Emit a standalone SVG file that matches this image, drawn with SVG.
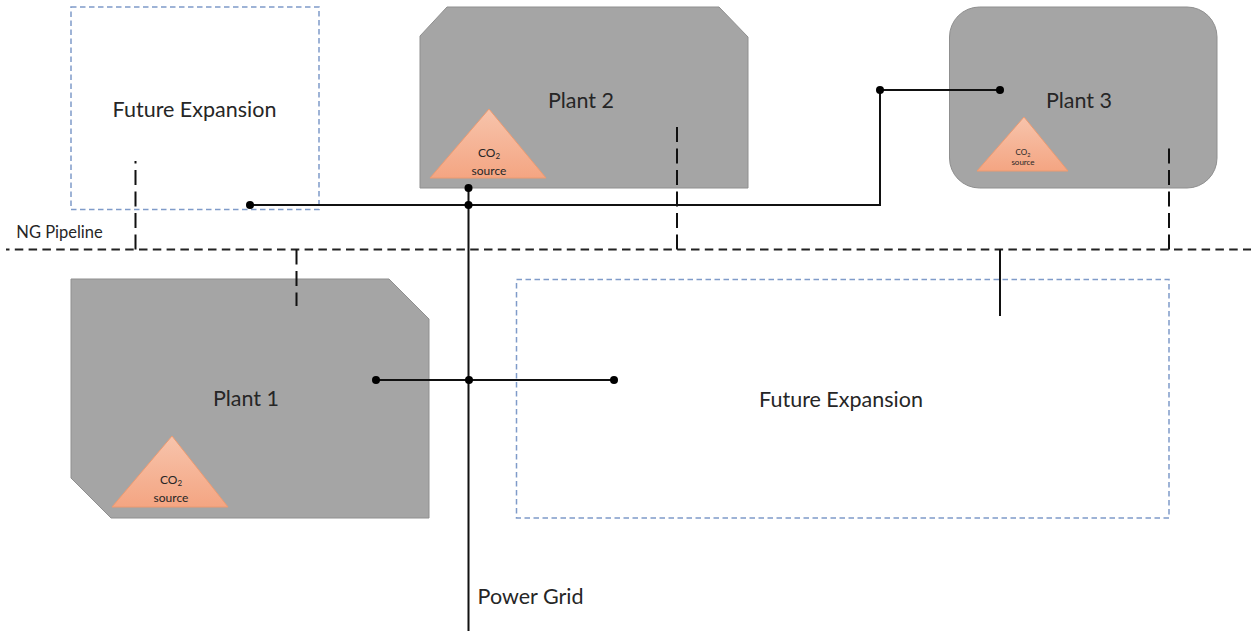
<svg xmlns="http://www.w3.org/2000/svg" width="1251" height="635" viewBox="0 0 1251 635">
<defs>
<linearGradient id="tri" x1="0" y1="0" x2="0" y2="1"><stop offset="0" stop-color="#f7c4ac"/><stop offset="1" stop-color="#f4a582"/></linearGradient>
</defs>
<style>
text{font-family:Lato,"Open Sans","Liberation Sans",sans-serif;fill:#262626;text-anchor:middle}
.plant{fill:#a5a5a5;stroke:#8f8f8f;stroke-width:1}
.future{fill:#fff;stroke:#7f9bc9;stroke-width:1.5;stroke-dasharray:5.500 3.500}
.tri{fill:url(#tri);stroke:#ed9a70;stroke-width:1}
.lbl{font-size:21.500px}
.solid{fill:none;stroke:#111;stroke-width:2}
.dashv{fill:none;stroke:#111;stroke-width:2;stroke-dasharray:15 6.500}
.dashh{fill:none;stroke:#222;stroke-width:2;stroke-dasharray:8.500 5.300;stroke-dashoffset:5}
.dot{fill:#000}
</style>
<g id="future-1"><rect class="future" x="71" y="7" width="248" height="202.500"/><text class="lbl" x="194.500" y="117">Future Expansion</text></g>
<g id="future-2"><rect class="future" x="516.500" y="279.500" width="652.500" height="238.500"/><text class="lbl" x="841" y="407">Future Expansion</text></g>
<g id="plant-2"><path class="plant" d="M447 7H719L748 37V188H420V36Z"/><text class="lbl" x="581" y="108">Plant 2</text>
<path class="tri" d="M489 109L546 178H430Z"/><text font-size="12" x="489" y="157">CO<tspan font-size="8" dy="2">2</tspan></text><text font-size="12" x="489" y="175">source</text></g>
<g id="plant-3"><rect class="plant" x="949.500" y="7" width="267.500" height="181" rx="30"/><text class="lbl" x="1079" y="108">Plant 3</text>
<path class="tri" d="M1024 117L1068 171H977Z"/><text font-size="8" x="1023" y="155">CO<tspan font-size="5.500" dy="1.500">2</tspan></text><text font-size="8" x="1023" y="165">source</text></g>
<g id="plant-1"><path class="plant" d="M71 279H389L429 319V518H111L71 478Z"/><text class="lbl" x="246" y="406">Plant 1</text>
<path class="tri" d="M172 436L228 507H112Z"/><text font-size="12" x="171" y="484">CO<tspan font-size="8" dy="2">2</tspan></text><text font-size="12" x="171" y="502">source</text></g>
<g id="connectors">
<path class="dashh" d="M6 249.500H1251"/>
<path class="dashv" d="M135.500 249.500V161"/>
<path class="dashv" d="M296.500 249.500V306"/>
<path class="dashv" d="M677 249.500V127"/>
<path class="dashv" d="M1169 249.500V147"/>
<path class="solid" d="M1000 249.500V316"/>
<path class="solid" d="M468.500 187V631"/>
<path class="solid" d="M250 205H880V90H1000"/>
<path class="solid" d="M376 380H614"/>
<circle class="dot" cx="250" cy="205" r="4"/><circle class="dot" cx="468.500" cy="188" r="4"/><circle class="dot" cx="468.500" cy="205" r="4"/>
<circle class="dot" cx="880" cy="90" r="4"/><circle class="dot" cx="1000" cy="90" r="4"/>
<circle class="dot" cx="376" cy="380" r="4"/><circle class="dot" cx="469" cy="380" r="4"/><circle class="dot" cx="614" cy="380" r="4"/>
</g>
<text font-size="16.500" x="59.500" y="238">NG Pipeline</text>
<text class="lbl" x="530.500" y="604">Power Grid</text>
</svg>
